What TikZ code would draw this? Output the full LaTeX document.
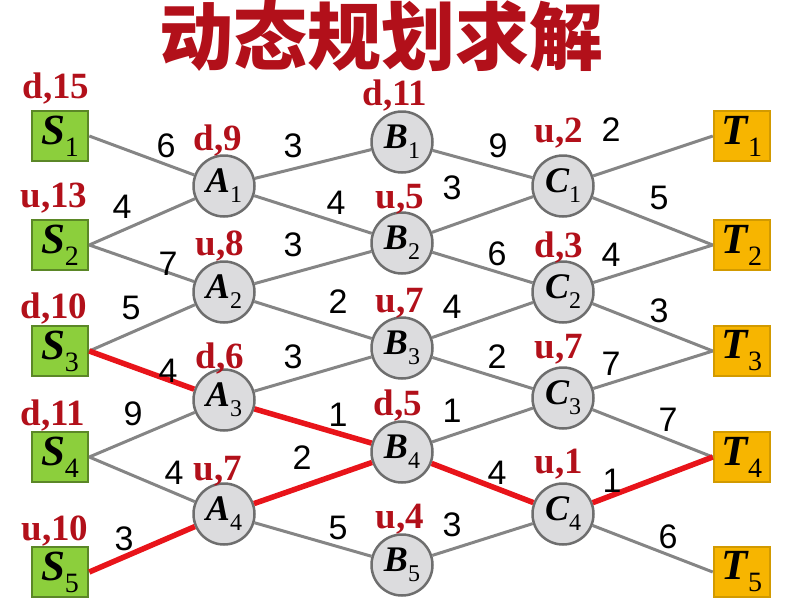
\documentclass[tikz,border=0pt]{standalone}
\usepackage{fontspec}
\setmainfont{Liberation Serif}
\newfontfamily\numfont{Liberation Sans}
\newfontfamily\cjk{Noto Sans CJK SC}

\newcommand{\stagename}[2]{{\bfseries\itshape #1}\raisebox{-0.28em}{\fontsize{24}{24}\selectfont #2}}
\newcommand{\boxname}[2]{{\bfseries\itshape #1}\raisebox{-0.28em}{\fontsize{28}{28}\selectfont #2}}

\begin{document}
\begin{tikzpicture}[x=1pt,y=-1pt,
startbox/.style={draw=startgreen!65!black,fill=startgreen,line width=2.5pt,minimum width=56pt,minimum height=50pt,inner sep=0pt,font=\fontsize{43}{43}\selectfont},
endbox/.style={draw=endgold!85!black,fill=endgold,line width=2.5pt,minimum width=56pt,minimum height=50pt,inner sep=0pt,font=\fontsize{43}{43}\selectfont},
stage/.style={circle,draw=stagerim,fill=stagefill,line width=2.5pt,minimum size=61pt,inner sep=0pt,font=\fontsize{36}{36}\selectfont},
link/.style={line width=3pt,linkgray},
best/.style={line width=5.5pt,bestred},
cost/.style={text=costred,anchor=base,inner sep=0pt,font=\bfseries\fontsize{37}{37}\selectfont},
weight/.style={inner sep=0pt,font=\numfont\fontsize{34}{34}\selectfont}]

\definecolor{startgreen}{HTML}{8CCF3C}
\definecolor{endgold}{HTML}{F7B500}
\definecolor{stagefill}{HTML}{DCDCDE}
\definecolor{stagerim}{HTML}{6E6E6E}
\definecolor{linkgray}{HTML}{858585}
\definecolor{bestred}{HTML}{E8141A}
\definecolor{costred}{HTML}{B2101A}

\useasboundingbox (0,0) rectangle (800,600);

% Title
\node[text=costred,font=\cjk\bfseries\fontsize{74}{74}\selectfont] (title) at (381,36) {动态规划求解};

% Stages
\node[startbox] (S1) at (60,136) {\boxname{S}{1}};
\node[startbox] (S2) at (60,245) {\boxname{S}{2}};
\node[startbox] (S3) at (60,351) {\boxname{S}{3}};
\node[startbox] (S4) at (60,457) {\boxname{S}{4}};
\node[startbox] (S5) at (60,572) {\boxname{S}{5}};

\node[stage] (A1) at (224,186) {\stagename{A}{1}};
\node[stage] (A2) at (224,292) {\stagename{A}{2}};
\node[stage] (A3) at (224,400) {\stagename{A}{3}};
\node[stage] (A4) at (224,514) {\stagename{A}{4}};

\node[stage] (B1) at (402,142) {\stagename{B}{1}};
\node[stage] (B2) at (402,243) {\stagename{B}{2}};
\node[stage] (B3) at (402,348) {\stagename{B}{3}};
\node[stage] (B4) at (402,452) {\stagename{B}{4}};
\node[stage] (B5) at (402,565) {\stagename{B}{5}};

\node[stage] (C1) at (563,186) {\stagename{C}{1}};
\node[stage] (C2) at (563,292) {\stagename{C}{2}};
\node[stage] (C3) at (563,398) {\stagename{C}{3}};
\node[stage] (C4) at (563,514) {\stagename{C}{4}};

\node[endbox] (T1) at (742,136) {\boxname{T}{1}};
\node[endbox] (T2) at (742,245) {\boxname{T}{2}};
\node[endbox] (T3) at (742,351) {\boxname{T}{3}};
\node[endbox] (T4) at (742,457) {\boxname{T}{4}};
\node[endbox] (T5) at (742,572) {\boxname{T}{5}};

% Links
\draw[link] (S1.east) -- (A1);
\draw[link] (S2.east) -- (A1);
\draw[link] (S2.east) -- (A2);
\draw[link] (S3.east) -- (A2);
\draw[link] (S4.east) -- (A3);
\draw[link] (S4.east) -- (A4);
\draw[link] (A1) -- (B1);
\draw[link] (A1) -- (B2);
\draw[link] (A2) -- (B2);
\draw[link] (A2) -- (B3);
\draw[link] (A3) -- (B3);
\draw[link] (A4) -- (B5);
\draw[link] (B1) -- (C1);
\draw[link] (B2) -- (C1);
\draw[link] (B2) -- (C2);
\draw[link] (B3) -- (C2);
\draw[link] (B3) -- (C3);
\draw[link] (B4) -- (C3);
\draw[link] (B5) -- (C4);
\draw[link] (C1) -- (T1.west);
\draw[link] (C1) -- (T2.west);
\draw[link] (C2) -- (T2.west);
\draw[link] (C2) -- (T3.west);
\draw[link] (C3) -- (T3.west);
\draw[link] (C3) -- (T4.west);
\draw[link] (C4) -- (T5.west);

% Best path
\draw[best] (S3.east) -- (A3);
\draw[best] (A3) -- (B4);
\draw[best] (S5.east) -- (A4);
\draw[best] (A4) -- (B4);
\draw[best] (B4) -- (C4);
\draw[best] (C4) -- (T4.west);

% Weights
\node[weight] (wS1A1) at (166,146) {6};
\node[weight] (wS2A1) at (122,207) {4};
\node[weight] (wS2A2) at (168,264) {7};
\node[weight] (wS3A2) at (131,308) {5};
\node[weight] (wS3A3) at (168,371) {4};
\node[weight] (wS4A3) at (133,414) {9};
\node[weight] (wS4A4) at (174,473) {4};
\node[weight] (wS5A4) at (124,539) {3};
\node[weight] (wA1B1) at (293,146) {3};
\node[weight] (wA1B2) at (336,203) {4};
\node[weight] (wA2B2) at (293,245) {3};
\node[weight] (wA2B3) at (338,302) {2};
\node[weight] (wA3B3) at (293,357) {3};
\node[weight] (wA3B4) at (338,415) {1};
\node[weight] (wA4B4) at (302,458) {2};
\node[weight] (wA4B5) at (338,528) {5};
\node[weight] (wB1C1) at (498,146) {9};
\node[weight] (wB2C1) at (452,188) {3};
\node[weight] (wB2C2) at (497,254) {6};
\node[weight] (wB3C2) at (452,307) {4};
\node[weight] (wB3C3) at (497,357) {2};
\node[weight] (wB4C3) at (452,411) {1};
\node[weight] (wB4C4) at (497,473) {4};
\node[weight] (wB5C4) at (452,525) {3};
\node[weight] (wC1T1) at (611,130) {2};
\node[weight] (wC1T2) at (659,198) {5};
\node[weight] (wC2T2) at (611,255) {4};
\node[weight] (wC2T3) at (659,311) {3};
\node[weight] (wC3T3) at (611,364) {7};
\node[weight] (wC3T4) at (668,420) {7};
\node[weight] (wC4T4) at (612,481) {1};
\node[weight] (wC4T5) at (668,537) {6};

% Costs
\node[cost] (cS1) at (56,98) {d,15};
\node[cost] (cS2) at (54,207) {u,13};
\node[cost] (cS3) at (54,318) {d,10};
\node[cost] (cS4) at (53,425) {d,11};
\node[cost] (cS5) at (55,540) {u,10};
\node[cost] (cA1) at (218,150) {d,9};
\node[cost] (cA2) at (220,255) {u,8};
\node[cost] (cA3) at (220,368) {d,6};
\node[cost] (cA4) at (218,480) {u,7};
\node[cost] (cB1) at (395,105) {d,11};
\node[cost] (cB2) at (400,208) {u,5};
\node[cost] (cB3) at (400,312) {u,7};
\node[cost] (cB4) at (398,415) {d,5};
\node[cost] (cB5) at (400,528) {u,4};
\node[cost] (cC1) at (559,142) {u,2};
\node[cost] (cC2) at (559,257) {d,3};
\node[cost] (cC3) at (559,358) {u,7};
\node[cost] (cC4) at (559,473) {u,1};

\end{tikzpicture}
\end{document}
